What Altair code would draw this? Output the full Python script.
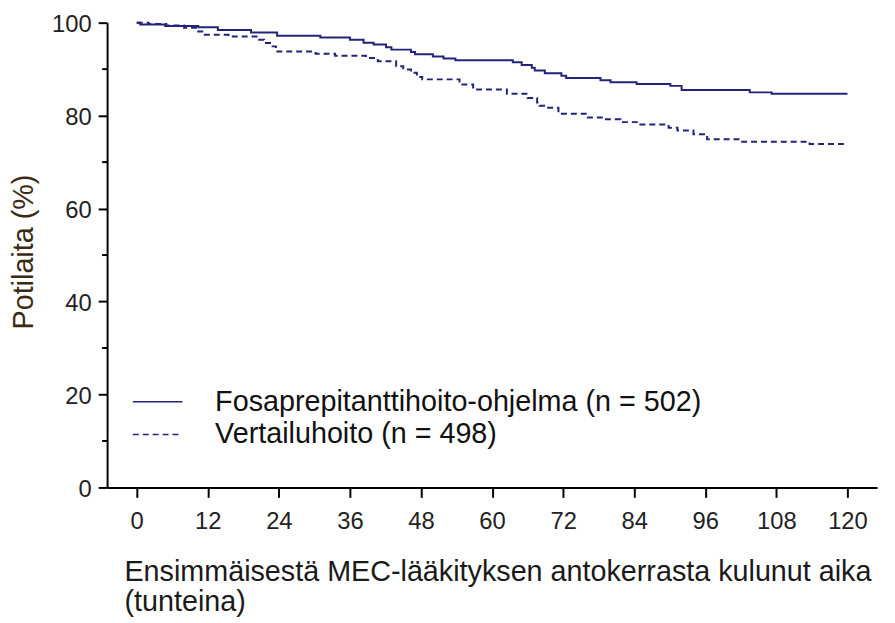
import altair as alt
import pandas as pd

# Fosaprepitanttihoito-ohjelma (solid) – step curve (hours, % patients)
fos_t = [0, 0.6, 4.8, 10.4, 13.7, 19.3, 23.7, 31, 36, 38.3, 40, 42.1, 43, 46.3, 47,
         50, 51.8, 53.8, 63.5, 65, 66.7, 67.2, 68.9, 71.7, 72.5, 78.3, 80, 84.4,
         90.1, 92, 103.5, 107.2, 120]
fos_v = [100, 99.6, 99.3, 99.0, 98.4, 97.9, 97.2, 96.8, 96.3, 95.7, 95.3, 94.7, 94.2,
         93.7, 93.2, 92.7, 92.3, 91.9, 91.5, 90.9, 90.3, 89.7, 89.1, 88.6, 88.1, 87.6,
         87.2, 86.8, 86.4, 85.5, 85.0, 84.7, 84.7]

# Vertailuhoito (dashed)
ver_t = [0, 2, 5, 8, 10, 11.5, 15.5, 20.5, 21.5, 22.5, 23.5, 30.2, 33.5, 38.7, 40.7,
         43.8, 45, 46.3, 47.3, 48.2, 54.5, 56.8, 62.5, 66, 67.6, 68, 69.2, 71.2, 76,
         79, 81.7, 84.8, 89.8, 91.3, 94, 96.3, 101.8, 113.6, 120]
ver_v = [100, 99.7, 99.4, 98.9, 98.1, 97.4, 97.0, 96.3, 95.6, 94.9, 93.8, 93.3, 92.9,
         92.4, 91.7, 90.6, 89.9, 89.2, 88.3, 87.8, 86.7, 85.6, 84.7, 83.8, 82.8, 82.1,
         81.7, 80.4, 79.6, 79.2, 78.6, 78.1, 77.4, 76.8, 76.0, 74.9, 74.4, 73.9, 73.9]

series_names = ["Fosaprepitanttihoito-ohjelma (n = 502)", "Vertailuhoito (n = 498)"]
x_ticks = [0, 12, 24, 36, 48, 60, 72, 84, 96, 108, 120]
y_ticks = [0, 20, 40, 60, 80, 100]
y_minor = [10, 30, 50, 70, 90]

df = pd.concat([
    pd.DataFrame({"t": fos_t, "v": fos_v, "s": series_names[0]}),
    pd.DataFrame({"t": ver_t, "v": ver_v, "s": series_names[1]}),
])

LINE = "#23237a"
FONT = "Liberation Sans"

x_scale = alt.Scale(domain=[-5, 125], nice=False, zero=False)
y_scale = alt.Scale(domain=[0, 100], nice=False)

lines = alt.Chart(df).mark_line(interpolate="step-after", strokeWidth=2, color=LINE).encode(
    x=alt.X("t:Q", scale=x_scale,
            axis=alt.Axis(values=x_ticks, tickSize=10, tickWidth=2, domainWidth=2,
                          domainColor="#000", tickColor="#000", labelFontSize=24,
                          labelFont=FONT, labelColor="#222", labelPadding=12,
                          grid=False,
                          title=["Ensimmäisestä MEC-lääkityksen antokerrasta kulunut aika", "(tunteina)"],
                          titleFont=FONT, titleFontSize=29, titleFontWeight="normal",
                          titleColor="#1a1a1a", titleAlign="left", titleAnchor="start",
                          titleBaseline="alphabetic", titleX=17, titleY=94,
                          titleLineHeight=30)),
    y=alt.Y("v:Q", scale=y_scale,
            axis=alt.Axis(values=y_ticks, tickSize=9, tickWidth=2, domainWidth=2,
                          domainColor="#000", tickColor="#000", labelFontSize=24,
                          labelFont=FONT, labelColor="#222", labelPadding=7,
                          labelOffset=2,
                          grid=False, title="Potilaita (%)",
                          titleFont=FONT, titleFontSize=29, titleFontWeight="normal",
                          titleColor="#3a2a14", titleAngle=-90, titleAlign="center",
                          titleBaseline="alphabetic", titleX=-75, titleY=231)),
    strokeDash=alt.StrokeDash("s:N",
        scale=alt.Scale(domain=series_names, range=[[1, 0], [6, 4]]),
        legend=alt.Legend(title=None, orient="none", legendX=25, legendY=366,
                          symbolType="stroke", symbolSize=2500, symbolStrokeWidth=1.5,
                          symbolStrokeColor=LINE, labelOffset=32, labelFontSize=29,
                          labelFont=FONT, labelColor="#111", rowPadding=0,
                          clipHeight=33, padding=0, labelLimit=800)),
)

minor = alt.Chart(pd.DataFrame({"m": y_minor})).mark_rule(color="#000", strokeWidth=2).encode(
    y=alt.Y("m:Q", scale=y_scale),
    x=alt.value(-5),
    x2=alt.value(0),
)

chart = alt.layer(lines, minor).properties(
    width=777, height=469,
    autosize="none",
    padding={"left": 100, "top": 12, "right": 10, "bottom": 134},
    background="white",
).configure_view(stroke=None)

chart.save("out.html", embed_options={"renderer": "svg", "actions": False})
